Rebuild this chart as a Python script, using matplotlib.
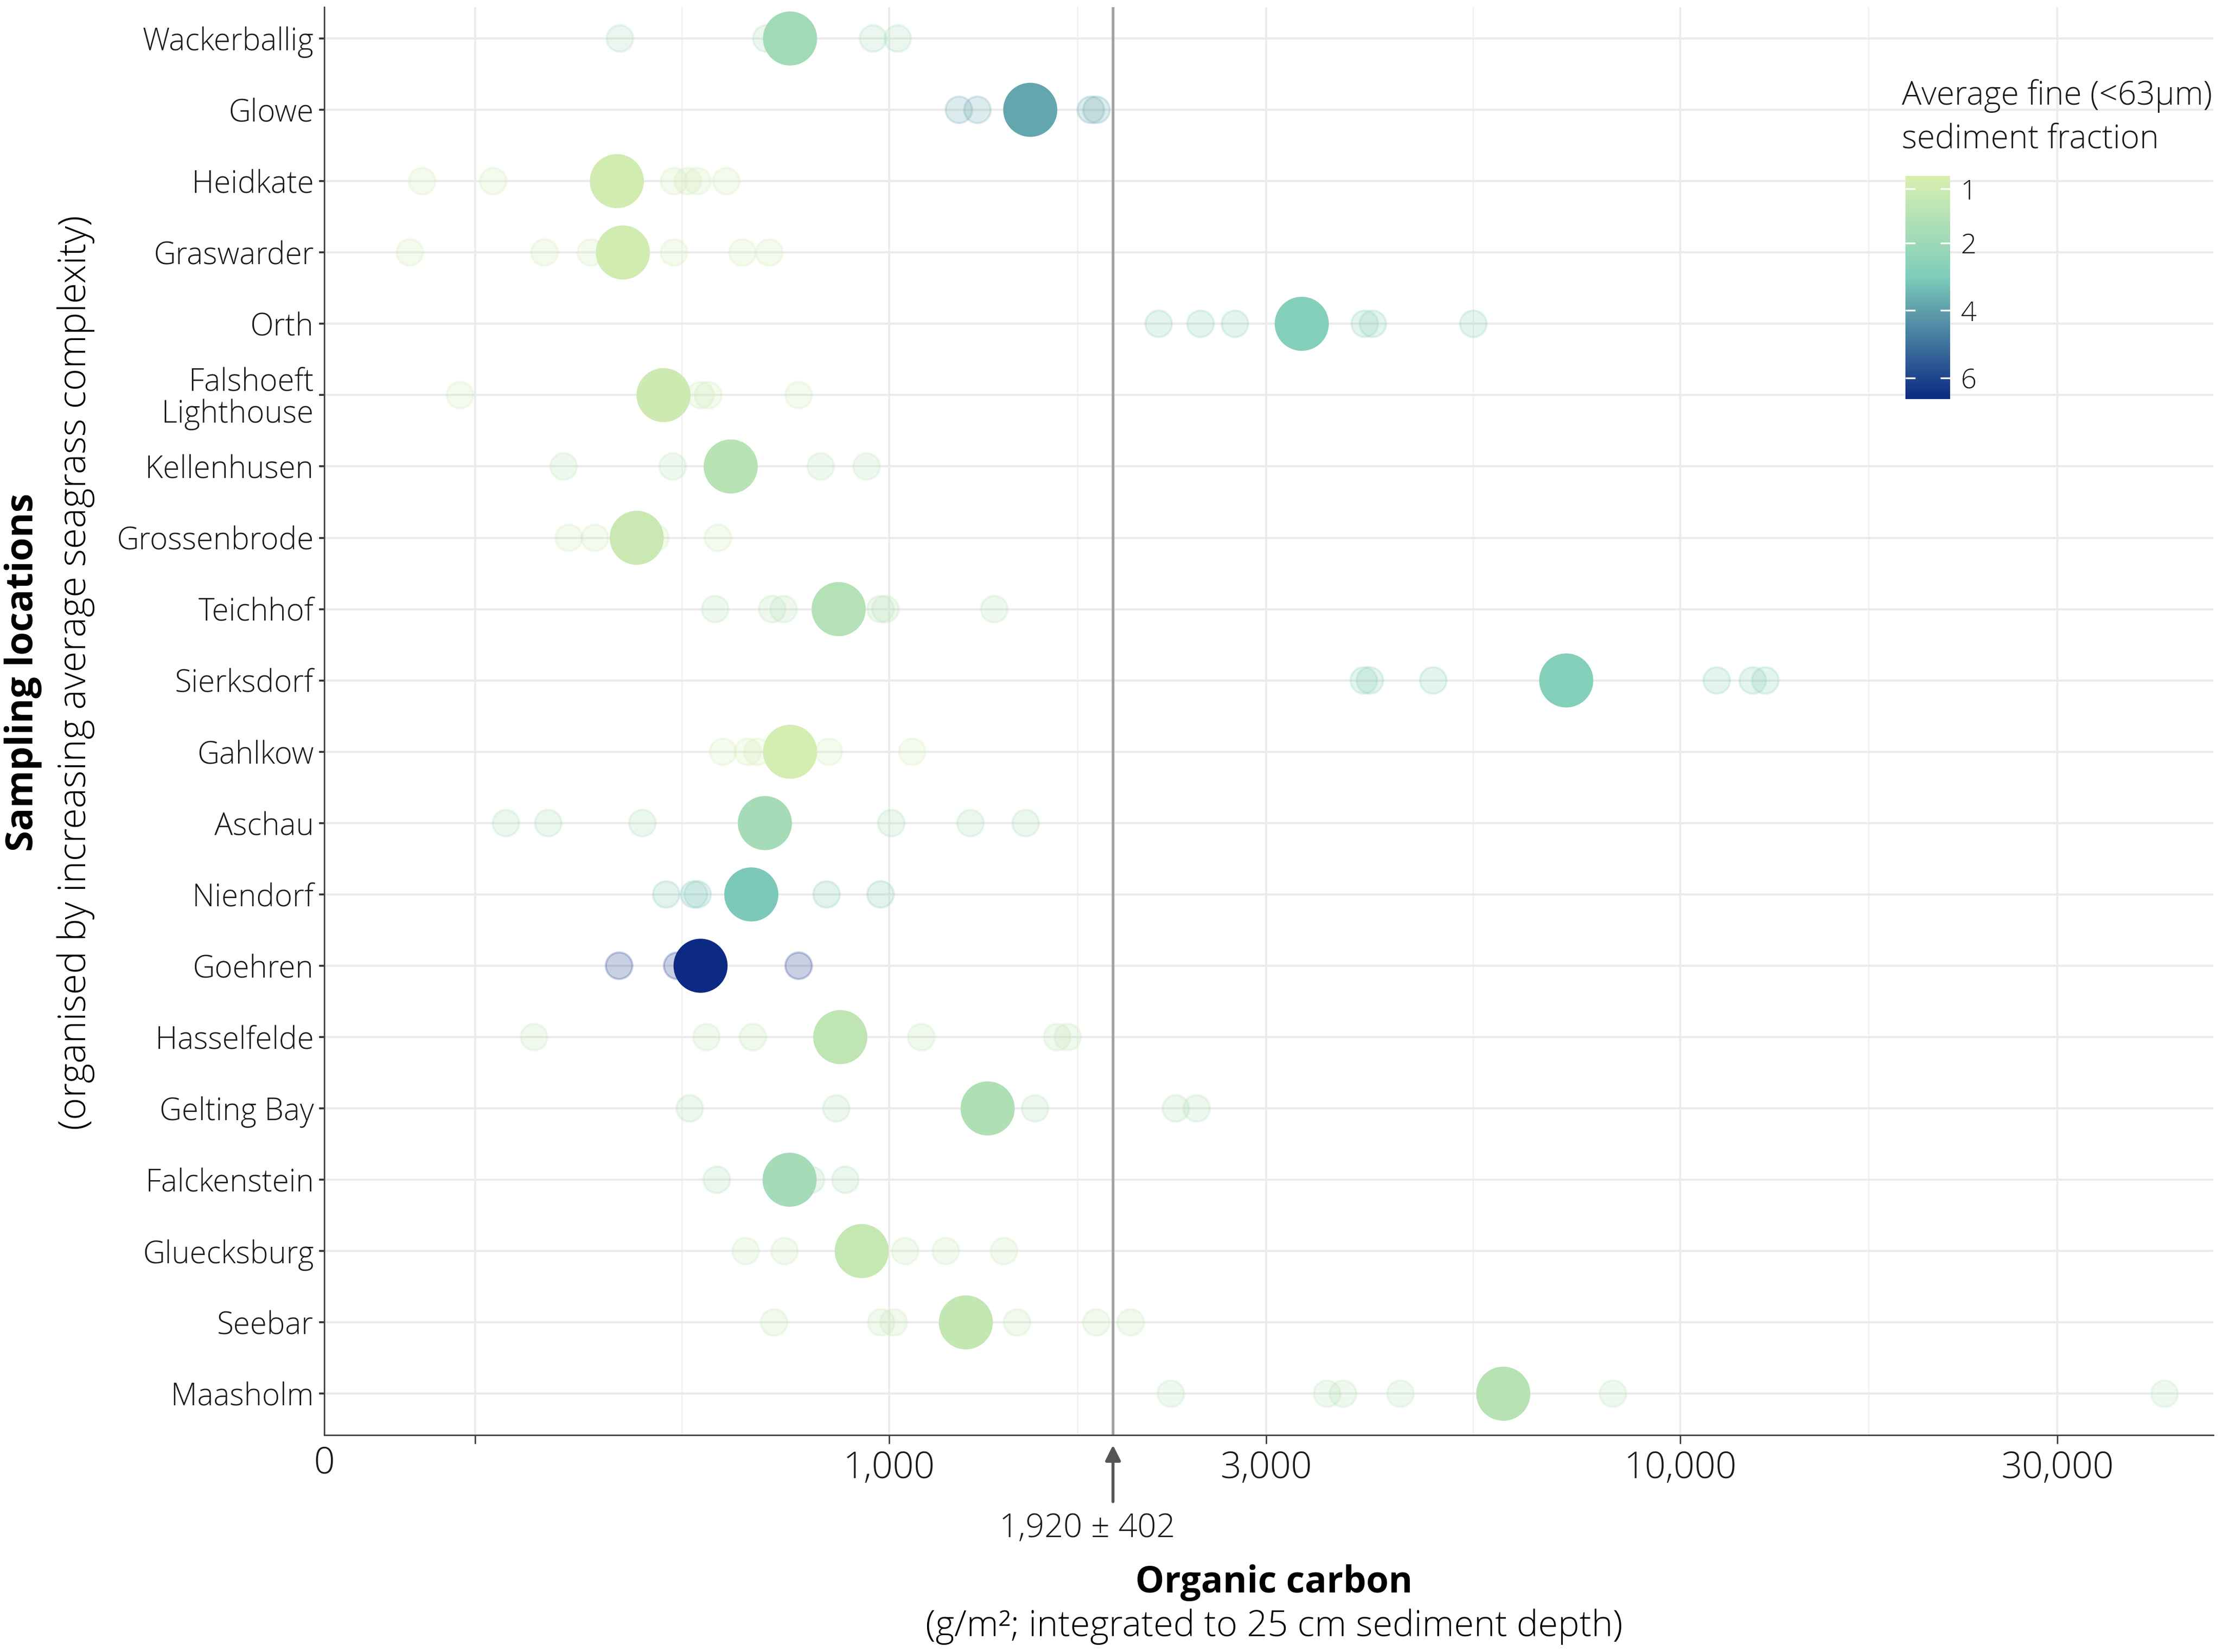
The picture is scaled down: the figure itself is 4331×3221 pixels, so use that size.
import numpy as np
import matplotlib
matplotlib.use('Agg')
import matplotlib.pyplot as plt
from matplotlib.colors import LinearSegmentedColormap, FuncNorm
from matplotlib.ticker import FixedLocator, NullFormatter

plt.rcParams['font.family'] = ['Open Sans', 'DejaVu Sans']
plt.rcParams['font.weight'] = 'light'

# sites, top to bottom (increasing average seagrass complexity)
sites = ['Wackerballig', 'Glowe', 'Heidkate', 'Graswarder', 'Orth',
         'Falshoeft\nLighthouse', 'Kellenhusen', 'Grossenbrode', 'Teichhof',
         'Sierksdorf', 'Gahlkow', 'Aschau', 'Niendorf', 'Goehren',
         'Hasselfelde', 'Gelting Bay', 'Falckenstein', 'Gluecksburg',
         'Seebar', 'Maasholm']

# site means (g/m2) and average fine fraction
site_oc = [750, 1509, 453, 461, 3326, 519, 631, 480, 864, 7182,
           750, 697, 670, 578, 868, 1333, 749, 924, 1251, 5979]
site_fine = [1.93, 3.85, 0.94, 0.94, 2.8, 1.02, 1.44, 1.07, 1.52, 2.8,
             0.86, 1.83, 3.1, 6.6, 1.33, 1.64, 1.83, 1.17, 1.21, 1.48]

# individual cores per site
sample_oc = [
    [457, 700, 955, 1026],
    [1226, 1294, 1800, 1830],
    [257, 316, 535, 557, 573, 623],
    [248, 367, 420, 535, 653, 706],
    [2193, 2477, 2738, 3995, 4090, 5480],
    [287, 578, 591, 769],
    [388, 533, 820, 937],
    [394, 425, 507, 608],
    [603, 712, 736, 976, 990, 1359],
    [3984, 4055, 4877, 11130, 12360, 12820],
    [617, 663, 682, 840, 1070],
    [328, 371, 488, 1007, 1268, 1489],
    [523, 567, 573, 834, 976],
    [456, 540, 769],
    [356, 588, 673, 1099, 1632, 1683],
    [560, 858, 1530, 2305, 2450],
    [606, 797, 881],
    [659, 738, 1048, 1180, 1398],
    [716, 978, 1014, 1452, 1829, 2021],
    [2272, 3581, 3751, 4433, 8229, 40980],
]

mean_oc = 1920
mean_sd = 402

x_breaks = [300, 1000, 3000, 10000, 30000]
x_labels = ['', '1,000', '3,000', '10,000', '30,000']
fine_ticks = [1, 2, 4, 6]

# colour scale
fine_knots = [0.76, 1, 2, 6.61]
pos_knots = [0, 0.059, 0.301, 1]
def fwd(v):
    return np.interp(v, fine_knots, pos_knots)
def inv(p):
    return np.interp(p, pos_knots, fine_knots)
norm = FuncNorm((fwd, inv), vmin=fine_knots[0], vmax=fine_knots[-1])
cmap = LinearSegmentedColormap.from_list(
    'fine', [(0, '#d9efb0'), (0.45, '#7fcdbb'), (1, '#0c2a84')])

fig = plt.figure(figsize=(4331/300, 3221/300), dpi=300)
ax = fig.add_axes([0.146, 0.1313, 0.85, 0.8644])

ypos = np.arange(len(sites))
for i in range(len(sites)):
    xs = sample_oc[i]
    ax.scatter(xs, [ypos[i]]*len(xs), s=155, c=[site_fine[i]]*len(xs),
               cmap=cmap, norm=norm, alpha=0.22, linewidths=1.0,
               edgecolors='face', zorder=3)
ax.scatter(site_oc, ypos, s=640, c=site_fine, cmap=cmap, norm=norm,
           linewidths=0, zorder=4)

ax.axvline(mean_oc, color='#a3a3a3', lw=1.3, zorder=2)

ax.set_xscale('log')
ax.set_xlim(193.4, 47200)
ax.set_ylim(len(sites) - 1 + 0.58, -0.44)

ax.xaxis.set_major_locator(FixedLocator(x_breaks))
ax.set_xticklabels(x_labels)
b = np.array(x_breaks, dtype=float)
ax.xaxis.set_minor_locator(FixedLocator(np.sqrt(b[:-1]*b[1:])))
ax.xaxis.set_minor_formatter(NullFormatter())
ax.set_yticks(ypos)
ax.set_yticklabels(sites)
for lab in ax.get_yticklabels():
    lab.set_linespacing(1.0)

ax.grid(axis='x', which='major', color='#ebebeb', lw=0.9)
ax.grid(axis='x', which='minor', color='#f0f0f0', lw=0.6)
ax.grid(axis='y', which='major', color='#ebebeb', lw=1.0)
ax.set_axisbelow(True)

for s in ['top', 'right']:
    ax.spines[s].set_visible(False)
for s in ['left', 'bottom']:
    ax.spines[s].set_color('#444444')
    ax.spines[s].set_linewidth(0.7)

ax.tick_params(axis='x', which='major', length=4, width=0.7, color='#444444',
               labelsize=17.2, pad=3, labelcolor='#1a1a1a')
ax.tick_params(axis='x', which='minor', length=0)
ax.tick_params(axis='y', length=2.5, width=0.9, color='#333333',
               labelsize=14.3, pad=2.5, labelcolor='#1a1a1a')

ax.annotate('0', xy=(0, 0), xycoords='axes fraction', xytext=(0, -13.3),
            textcoords='offset points', ha='center', va='center',
            fontsize=17.2, color='#1a1a1a', annotation_clip=False)

# mean marker under the axis
ax.annotate('', xy=(mean_oc, -0.007), xycoords=('data', 'axes fraction'),
            xytext=(mean_oc, -0.0466), textcoords=('data', 'axes fraction'),
            arrowprops=dict(arrowstyle='-|>', color='#555555', lw=1.4,
                            mutation_scale=15, shrinkA=0, shrinkB=0),
            annotation_clip=False)
ax.annotate(f'{mean_oc:,} ± {mean_sd}', xy=(mean_oc, -0.0655),
            xycoords=('data', 'axes fraction'), xytext=(-12, 0),
            textcoords='offset points', ha='center', va='center',
            fontsize=15.5, color='#1a1a1a', annotation_clip=False)

fig.text(0.5733, 0.036, 'Organic carbon', fontsize=17, weight='bold',
         ha='center', va='baseline')
fig.text(0.5733, 0.0096, '(g/m²; integrated to 25 cm sediment depth)',
         fontsize=16.9, ha='center', va='baseline')
fig.text(0.0103, 0.593, 'Sampling locations', fontsize=17.8, weight='bold',
         rotation=90, ha='center', va='center')
fig.text(0.0342, 0.593, '(organised by increasing average seagrass complexity)',
         fontsize=17.8, rotation=90, ha='center', va='center')

# colour legend
cax = fig.add_axes([0.8575, 0.7586, 0.0201, 0.135])
sm = plt.cm.ScalarMappable(norm=norm, cmap=cmap)
cbar = fig.colorbar(sm, cax=cax, ticks=fine_ticks)
cbar.outline.set_visible(False)
cax.invert_yaxis()
cax.minorticks_off()
cax.set_yticks(fine_ticks)
cax.set_yticklabels([str(t) for t in fine_ticks])
cax.tick_params(which='major', direction='in', length=4.5, width=0.8,
                color='white', left=True, right=True, labelleft=False,
                labelright=True, labelsize=13, pad=5, labelcolor='#1a1a1a')
fig.text(0.856, 0.9368, 'Average fine (<63µm)', fontsize=15.3, ha='left',
         va='baseline', color='#1a1a1a')
fig.text(0.856, 0.910, 'sediment fraction', fontsize=15.3, ha='left',
         va='baseline', color='#1a1a1a')

fig.savefig('out.png', dpi=300)
